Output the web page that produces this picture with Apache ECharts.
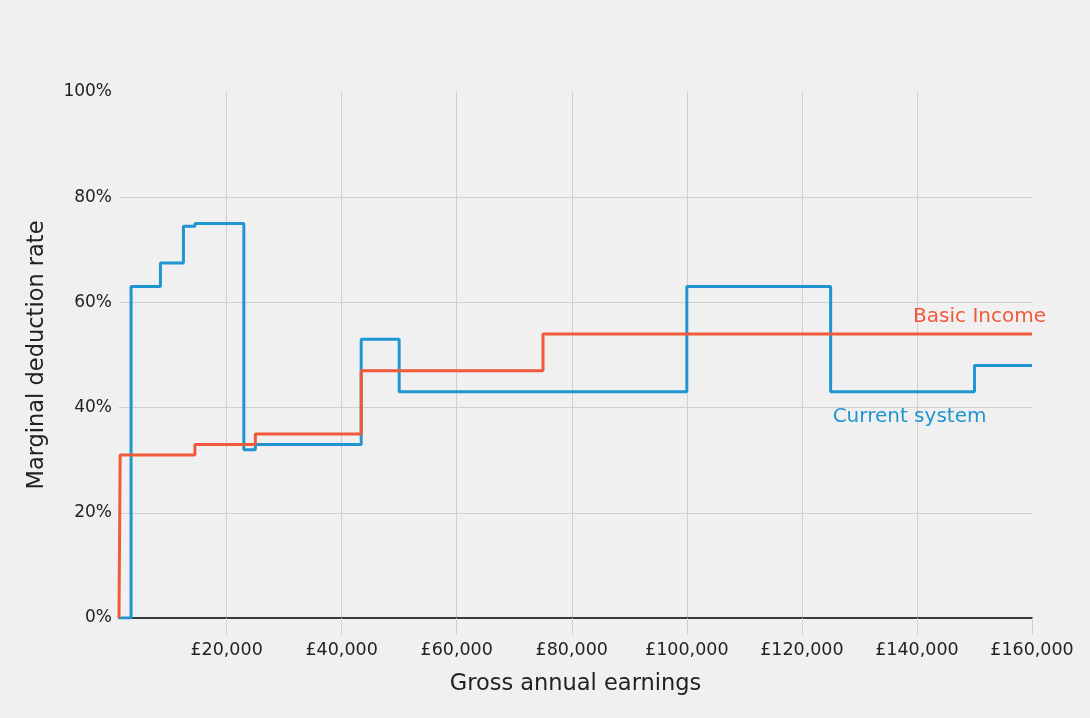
<!DOCTYPE html>
<html>
<head>
<meta charset="utf-8">
<script src="https://cdn.jsdelivr.net/npm/echarts@6/dist/echarts.min.js"></script>
<style>
html,body{margin:0;padding:0;background:#f0f0f0;}
#c{width:1090px;height:718px;}
</style>
</head>
<body>
<div id="c"></div>
<script>
// Gross annual earnings (£) at which each rate starts, and the rate (%) from there on
const currentX = [1300, 3400, 8500, 12500, 14500, 23000, 25000, 43400, 50000, 100000, 125000, 150000, 160000];
const currentY = [0, 63, 67.5, 74.5, 75, 32, 33, 53, 43, 63, 43, 48, 48];
const basicX = [1300, 1500, 14500, 25000, 43400, 75000, 160000];
const basicY = [0, 31, 33, 35, 47, 54, 54];
const xTicks = [20000, 40000, 60000, 80000, 100000, 120000, 140000, 160000];
const yTicks = [0, 20, 40, 60, 80, 100];

const zip = (xs, ys) => xs.map((x, i) => [x, ys[i]]);
const blue = '#2195d2';
const red = '#f05a3a';
const font = 'DejaVu Sans';

const chart = echarts.init(document.getElementById('c'), null, {renderer: 'canvas'});
chart.setOption({
  backgroundColor: '#f0f0f0',
  animation: false,
  grid: {left: 119, right: 58, top: 92, bottom: 100},
  xAxis: {
    type: 'value',
    min: 1300, max: 160000,
    minInterval: 20000, maxInterval: 20000, splitNumber: 8,
    name: 'Gross annual earnings',
    nameLocation: 'middle', nameGap: 55,
    nameTextStyle: {fontFamily: font, fontSize: 22.5, color: '#222'},
    axisLine: {show: true, onZero: true, lineStyle: {color: '#3a3a3a', width: 2}},
    axisTick: {show: true, length: 17, lineStyle: {color: '#cfcfcf', width: 1}},
    axisLabel: {
      fontFamily: font, fontSize: 17.5, color: '#222', margin: 23,
      showMinLabel: false,
      formatter: v => xTicks.includes(v) ? '£' + v.toLocaleString('en-GB') : ''
    },
    splitLine: {show: true, showMinLine: false, showMaxLine: false, lineStyle: {color: '#cfcfcf', width: 1}}
  },
  yAxis: {
    type: 'value',
    min: 0, max: 100, interval: 20,
    name: 'Marginal deduction rate',
    nameLocation: 'middle', nameGap: 70,
    nameTextStyle: {fontFamily: font, fontSize: 22.5, color: '#222'},
    axisLine: {show: false},
    axisTick: {show: false},
    axisLabel: {
      fontFamily: font, fontSize: 17, color: '#222', margin: 7,
      formatter: v => yTicks.includes(v) ? v + '%' : ''
    },
    splitLine: {show: true, showMaxLine: false, lineStyle: {color: '#cfcfcf', width: 1}}
  },
  series: [
    {
      name: 'Current system', type: 'line', step: 'end',
      data: zip(currentX, currentY),
      showSymbol: false, symbol: 'none',
      lineStyle: {color: blue, width: 3},
      itemStyle: {color: blue},
      z: 3,
      markPoint: {
        symbol: 'circle', symbolSize: 0,
        data: [{coord: [125000, 43]}],
        label: {
          show: true, formatter: 'Current system', position: 'inside',
          align: 'left', verticalAlign: 'middle', offset: [2, 25],
          fontFamily: font, fontSize: 20, color: blue
        }
      }
    },
    {
      name: 'Basic Income', type: 'line', step: 'end',
      data: zip(basicX, basicY),
      showSymbol: false, symbol: 'none',
      lineStyle: {color: red, width: 3},
      itemStyle: {color: red},
      z: 4,
      markPoint: {
        symbol: 'circle', symbolSize: 0,
        data: [{coord: [160000, 54]}],
        label: {
          show: true, formatter: 'Basic Income', position: 'inside',
          align: 'right', verticalAlign: 'middle', offset: [14, -17],
          fontFamily: font, fontSize: 20, color: red
        }
      }
    }
  ]
});
</script>
</body>
</html>
